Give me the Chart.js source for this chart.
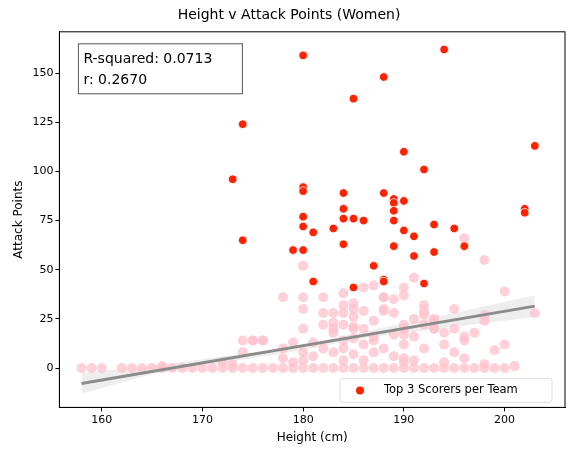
<!DOCTYPE html>
<html><head><meta charset="utf-8">
<script src="https://cdn.jsdelivr.net/npm/chart.js@4"></script>
<style>body{margin:0;background:#fff}#wrap{width:571px;height:455px}</style>
</head><body><div id="wrap"><canvas id="c"></canvas></div>
<script>
const topHeights = [173,174,174,179,180,180,180,180,180,180,181,181,183,184,184,184,184,185,185,185,186,187,188,188,188,188,189,189,189,189,189,190,190,190,191,191,192,192,193,193,194,195,196,202,202,203]
const topPoints  = [96,124,65,60,159,92,90,77,72,60,69,44,71,89,81,76,63,137,76,41,75,52,148,89,45,44,86,84,80,75,62,110,85,70,67,57,101,43,73,59,162,71,62,81,79,113]
const otherHeights = [158,159,160,162,163,164,165,166,167,168,169,170,171,172,173,174,175,176,177,178,179,180,181,182,183,184,185,186,187,188,189,190,191,192,193,194,195,196,197,198,199,200,
  166,172,173,174,175,176,178,178,179,179,180,180,180,181,181,182,182,182,183,183,183,184,184,184,184,185,185,185,185,185,186,186,186,187,187,187,188,188,188,189,189,189,190,190,190,190,191,191,191,192,192,192,193,193,194,194,195,195,196,196,197,198,198,199,200,201,203,
  178,180,180,182,184,184,185,186,187,188,189,190,190,191,192,193,195,196,198,185,183,184,186,188,190,192,194,200,174,175,176,180,183,187,190,193,196,198]
const otherPoints = [0,0,0,0,0,0,0,0,0,0,0,0,0,0,0,0,0,0,0,0,0,0,0,0,0,0,0,0,0,0,0,0,0,0,0,0,0,0,0,0,0,0,
  1,3,2,8,14,14,10,5,13,3,4,8,20,13,6,28,22,10,18,28,8,22,14,4,10,26,20,15,7,30,20,12,4,14,24,8,10,30,36,6,17,28,5,20,12,3,25,16,4,22,27,10,24,20,12,3,8,20,14,5,18,24,2,9,12,1,28,
  36,52,36,36,38,32,33,41,42,36,35,37,41,46,32,25,30,66,55,21,23,28,29,29,17,29,18,39,14,14,14,30,20,16,22,20,16,27]
const fitX = [158,203]
const fitY = [-7.8,31.5]
const bandLo = [-13,-3,9,14.5,21,26]
const bandHi = [-2.5,1,11.5,17.5,28,37]
const bandX = [158,165,180,185,195,203]

const tickGrid = {drawOnChartArea: false, drawTicks: true, tickLength: 4, color: '#000'}

new Chart(document.getElementById('c'), {
  type: 'scatter',
  data: { datasets: [
    {label: 'band hi', data: bandX.map((x,i)=>({x, y: bandHi[i]})), showLine: true, pointRadius: 0, borderWidth: 0, backgroundColor: 'rgba(200,200,200,0.3)', fill: '+1', order: 5},
    {label: 'band lo', data: bandX.map((x,i)=>({x, y: bandLo[i]})), showLine: true, pointRadius: 0, borderWidth: 0, order: 5},
    {label: 'Others', data: otherHeights.map((x,i)=>({x, y: otherPoints[i]})), backgroundColor: 'rgba(255,192,203,0.75)', borderColor: 'rgba(255,192,203,0)', pointRadius: 5, order: 4},
    {label: 'fit', data: fitX.map((x,i)=>({x, y: fitY[i]})), showLine: true, pointRadius: 0, borderColor: '#8c8c8c', borderWidth: 3, order: 3},
    {label: 'Top 3 Scorers per Team', data: topHeights.map((x,i)=>({x, y: topPoints[i]})), backgroundColor: '#ff2200', borderColor: '#fff', borderWidth: 0.8, pointRadius: 4.3, order: 1}
  ]},
  options: {
    responsive: true, maintainAspectRatio: false, animation: false,
    layout: {padding: {left: 8, right: 1, top: 5, bottom: 6}},
    plugins: {
      title: {display: true, text: 'Height v Attack Points (Women)', color: '#000', font: {family: 'DejaVu Sans', size: 14, weight: 'normal'}, padding: {top: 2, bottom: 8}},
      legend: {display: false},
      tooltip: {enabled: false}
    },
    scales: {
      x: {min: 155.8, max: 206, grid: tickGrid, border: {color: '#000'},
        title: {display: true, text: 'Height (cm)', color: '#000', font: {family: 'DejaVu Sans', size: 12}, padding: {top: 2}},
        ticks: {color: '#000', font: {family: 'DejaVu Sans', size: 11}, padding: 2},
        afterBuildTicks: a => { a.ticks = [160,170,180,190,200].map(v=>({value:v})) }},
      y: {min: -20, max: 171, grid: tickGrid, border: {color: '#000'},
        title: {display: true, text: 'Attack Points', color: '#000', font: {family: 'DejaVu Sans', size: 12}},
        ticks: {color: '#000', font: {family: 'DejaVu Sans', size: 11}, padding: 2},
        afterBuildTicks: a => { a.ticks = [0,25,50,75,100,125,150].map(v=>({value:v})) }}
    }
  },
  plugins: [{
    id: 'boxes',
    afterDraw(chart) {
      const ctx = chart.ctx, a = chart.chartArea
      ctx.save()
      ctx.strokeStyle = '#000'; ctx.lineWidth = 1
      ctx.strokeRect(a.left, a.top, a.right - a.left, a.bottom - a.top)
      ctx.fillStyle = '#fff'; ctx.strokeStyle = '#555'
      ctx.fillRect(a.left + 19, a.top + 12, 164, 50); ctx.strokeRect(a.left + 19, a.top + 12, 164, 50)
      ctx.fillStyle = '#000'; ctx.font = '14px "DejaVu Sans"'; ctx.textBaseline = 'middle'
      ctx.fillText('R-squared: 0.0713', a.left + 24, a.top + 28)
      ctx.fillText('r: 0.2670', a.left + 24, a.top + 49)
      const lx = a.right - 225, ly = a.bottom - 29
      ctx.fillStyle = 'rgba(255,255,255,0.85)'; ctx.strokeStyle = '#ddd'
      ctx.beginPath(); ctx.roundRect(lx, ly, 212, 24, 3); ctx.fill(); ctx.stroke()
      ctx.fillStyle = '#ff2200'; ctx.beginPath(); ctx.arc(lx + 20, ly + 12, 4, 0, 2 * Math.PI); ctx.fill()
      ctx.fillStyle = '#000'; ctx.font = '11.5px "DejaVu Sans"'
      ctx.fillText('Top 3 Scorers per Team', lx + 44, ly + 12)
      ctx.restore()
    }
  }]
})
</script></body></html>
